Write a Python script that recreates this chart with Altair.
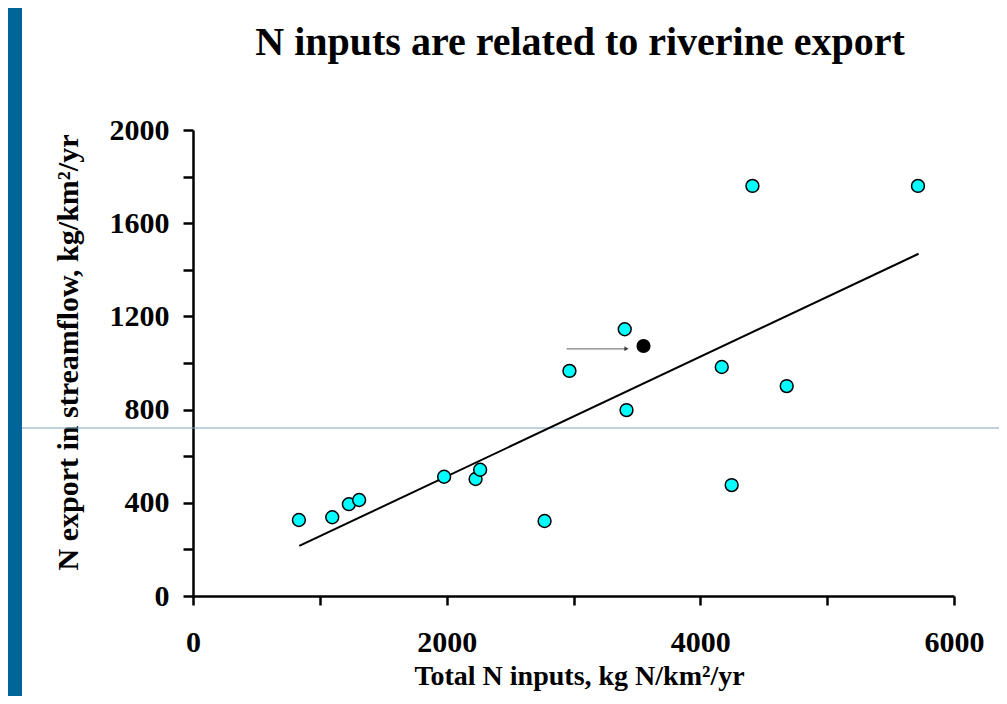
import altair as alt
import pandas as pd

# ---- data ----
title_text = ["N inputs are related to riverine export"]
x_title = "Total N inputs, kg N/km²/yr"
y_title = "N export in streamflow, kg/km²/yr"

n_input = [835, 1098, 1229, 1310, 1980, 2228, 2264, 2772, 2968, 3404, 3418, 4169, 4247, 4411, 4681, 5716]
n_export = [326, 338, 394, 412, 512, 502, 542, 322, 966, 1145, 798, 983, 476, 1760, 901, 1760]

hl_input = [3552]
hl_export = [1073]

fit_input = [838, 5721]
fit_export = [215, 1469]

arrow_input = [2945, 3418]
arrow_export = [1061, 1061]

x_ticks = [0, 1000, 2000, 3000, 4000, 5000, 6000]
y_ticks = [0, 200, 400, 600, 800, 1000, 1200, 1400, 1600, 1800, 2000]

slide_line_y = [721]

FONT = "Liberation Serif"
BLUE = "#006699"

xs = alt.Scale(domain=[0, 6000], nice=False, zero=True)
ys = alt.Scale(domain=[0, 2000], nice=False, zero=True)

x_axis = alt.Axis(
    values=x_ticks, format="d",
    labelExpr="datum.value % 2000 === 0 ? datum.label : ''",
    title=x_title, titleX=386, titleY=80, titleAlign="center", titleBaseline="middle",
    grid=False, domainColor="black", domainWidth=2.5, tickColor="black", tickWidth=2.5,
    tickSize=9, labelFont=FONT, labelFontSize=30, labelFontWeight="bold", labelColor="black",
    labelPadding=22, labelFlush=False, labelOverlap=False,
    titleFont=FONT, titleFontSize=28, titleFontWeight="bold", titleColor="black",
)
y_axis = alt.Axis(
    values=y_ticks, format="d",
    labelExpr="datum.value % 400 === 0 ? datum.label : ''",
    title=y_title, titleX=-125, titleY=222, titleAngle=-90, titleAlign="center", titleBaseline="middle",
    grid=False, domainColor="black", domainWidth=2.5, tickColor="black", tickWidth=2.5,
    tickSize=10, labelFont=FONT, labelFontSize=30, labelFontWeight="bold", labelColor="black",
    labelPadding=14, labelOverlap=False,
    titleFont=FONT, titleFontSize=30, titleFontWeight="bold", titleColor="black",
)

X = lambda: alt.X("x:Q", scale=xs, axis=x_axis, title=x_title)
Y = lambda: alt.Y("y:Q", scale=ys, axis=y_axis, title=y_title)

one = pd.DataFrame({"a": [0]})

strip = alt.Chart(one).mark_rect(color=BLUE).encode(
    x=alt.value(-185), x2=alt.value(-171), y=alt.value(-122), y2=alt.value(566)
)

slide_line = alt.Chart(pd.DataFrame({"y": slide_line_y})).mark_rule(
    color="#7EA3BF", strokeWidth=1.2
).encode(y=Y(), x=alt.value(-171), x2=alt.value(810))

fit = alt.Chart(pd.DataFrame({"x": fit_input, "y": fit_export})).mark_line(
    color="black", strokeWidth=2
).encode(x=X(), y=Y())

arrow_df = pd.DataFrame({"x": arrow_input, "y": arrow_export})
arrow = alt.Chart(arrow_df).mark_line(color="#808080", strokeWidth=1.3).encode(x=X(), y=Y())
arrow_head = alt.Chart(arrow_df.tail(1)).mark_point(
    shape="triangle-right", filled=True, color="black", size=25
).encode(x=X(), y=Y())

points = alt.Chart(pd.DataFrame({"x": n_input, "y": n_export})).mark_circle(
    size=165, color="#00FFFF", stroke="black", strokeWidth=1.5, opacity=1
).encode(x=X(), y=Y())

highlight = alt.Chart(pd.DataFrame({"x": hl_input, "y": hl_export})).mark_circle(
    size=200, color="black", opacity=1
).encode(x=X(), y=Y())

title = alt.Chart(pd.DataFrame({"t": title_text})).mark_text(
    font=FONT, fontSize=40, fontWeight="bold", align="center", baseline="alphabetic", color="black"
).encode(text="t:N", x=alt.value(387), y=alt.value(-75))

chart = alt.layer(
    strip, slide_line, fit, arrow, arrow_head, points, highlight, title
).properties(
    width=761, height=466,
    autosize=alt.AutoSizeParams(type="none"),
    padding={"left": 185, "top": 122, "right": 45, "bottom": 100},
    background="white",
).configure_view(stroke=None)

chart.save("out.html", embed_options={"renderer": "svg", "actions": False})
